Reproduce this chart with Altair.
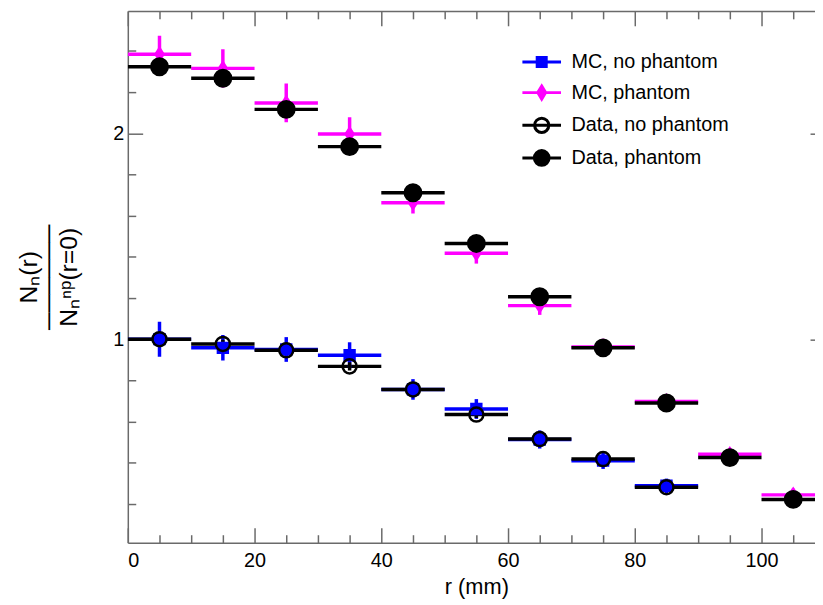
import altair as alt
import pandas as pd

# ---------------- data ----------------
series_names = ["MC, no phantom", "MC, phantom", "Data, no phantom", "Data, phantom"]

r_center = [5, 15, 25, 35, 45, 55, 65, 75, 85, 95, 105]
r_low = [0, 10, 20, 30, 40, 50, 60, 70, 80, 90, 100]
r_high = [10, 20, 30, 40, 50, 60, 70, 80, 90, 100, 110]

mc_nophantom = [1.000, 0.958, 0.950, 0.922, 0.756, 0.661, 0.513, 0.410, 0.288]
mc_nophantom_err = [0.085, 0.062, 0.060, 0.063, 0.050, 0.048, 0.044, 0.040, 0.035]
mc_phantom = [2.384, 2.315, 2.147, 1.996, 1.663, 1.417, 1.163, 0.962, 0.698, 0.441, 0.244]
mc_phantom_err = [0.090, 0.093, 0.094, 0.082, 0.053, 0.050, 0.045, 0.040, 0.035, 0.030, 0.030]
data_nophantom = [1.000, 0.977, 0.946, 0.868, 0.756, 0.634, 0.515, 0.418, 0.281]
data_nophantom_err = [0.020, 0.020, 0.020, 0.020, 0.018, 0.017, 0.015, 0.014, 0.012]
data_phantom = [2.323, 2.267, 2.116, 1.935, 1.711, 1.465, 1.206, 0.958, 0.690, 0.425, 0.222]
data_phantom_err = [0.030, 0.030, 0.029, 0.028, 0.026, 0.024, 0.022, 0.020, 0.018, 0.016, 0.014]

x_major_ticks = [0, 20, 40, 60, 80, 100]
x_minor_ticks = [5, 10, 15, 25, 30, 35, 45, 50, 55, 65, 70, 75, 85, 90, 95, 105]
y_major_ticks = [1, 2]
y_minor_ticks = [0.2, 0.4, 0.6, 0.8, 1.2, 1.4, 1.6, 1.8, 2.2, 2.4]

x_title = "r (mm)"
y_title = ["Nₙ(r)", "──────", "Nₙⁿᵖ(r=0)"]

# ---------------- styles ----------------
series_stroke = ["#0000ff", "#ff00ff", "#000000", "#000000"]
series_fill = ["#0000ff", "#ff00ff", "transparent", "#000000"]
point_shapes = [
    "M-0.5,-0.5L0.5,-0.5L0.5,0.5L-0.5,0.5Z",
    "M0,-0.62L0.4,0L0,0.62L-0.4,0Z",
    "M-0.71,0A0.71,0.71,0,1,0,0.71,0A0.71,0.71,0,1,0,-0.71,0Z",
    "M-0.83,0A0.83,0.83,0,1,0,0.83,0A0.83,0.83,0,1,0,-0.83,0Z",
]
legend_shapes = [
    "M-1.625,0L1.625,0M-0.38,-0.38L0.38,-0.38L0.38,0.38L-0.38,0.38Z",
    "M-1.625,0L1.625,0M0,-0.55L0.33,0L0,0.55L-0.33,0Z",
    "M-1.625,0L1.625,0M-0.6,0A0.6,0.6,0,1,0,0.6,0A0.6,0.6,0,1,0,-0.6,0Z",
    "M-1.625,0L1.625,0M-0.62,0A0.62,0.62,0,1,0,0.62,0A0.62,0.62,0,1,0,-0.62,0Z",
]
FRAME = "#6a6a6a"
FONT = "Liberation Sans"

# ---------------- table ----------------
rows = []
for k, (name, vals, errs) in enumerate(zip(
        series_names,
        [mc_nophantom, mc_phantom, data_nophantom, data_phantom],
        [mc_nophantom_err, mc_phantom_err, data_nophantom_err, data_phantom_err])):
    for i, (v, e) in enumerate(zip(vals, errs)):
        rows.append(dict(series=name, k=k, r=r_center[i], lo=r_low[i], hi=r_high[i],
                         val=v, ylo=v - e, yhi=v + e))
df = pd.DataFrame(rows)

x_scale = alt.Scale(domain=[0, 108.44], nice=False, zero=False)
y_scale = alt.Scale(domain=[0.012, 2.594], nice=False, zero=False)


def sc(rng):
    return alt.Scale(domain=series_names, range=rng)


def axis(orient, values=None, offset=0, tick_size=0, labels=False, domain=False, title=None, **extra):
    kw = dict(orient=orient, offset=offset, labels=labels, domain=domain, grid=False, title=title,
              tickColor=FRAME, tickWidth=1.5, domainColor=FRAME, domainWidth=1.5,
              labelFont=FONT, labelFontSize=20, labelColor="black",
              titleFont=FONT, titleColor="black", titleFontWeight="normal")
    if values is not None:
        kw["values"] = values
    if tick_size > 0:
        kw.update(ticks=True, tickSize=tick_size)
    else:
        kw.update(ticks=False)
    kw.update(extra)
    return alt.Axis(**kw)


leg = alt.Legend(title=None, orient="none", legendX=404.5, legendY=38, symbolSize=576,
                 symbolStrokeWidth=3, labelFont=FONT, labelFontSize=20, labelColor="black",
                 labelOffset=16.5, rowPadding=6, padding=0, labelLimit=400)

hbars = alt.Chart(df).mark_rule(strokeWidth=3.5, clip=True).encode(
    x=alt.X("lo:Q", scale=x_scale,
            axis=axis("bottom", x_major_ticks, -15, 15, labels=True, title=x_title,
                      labelPadding=8, titleX=352, titleY=59, titleBaseline="middle",
                      titleFontSize=22)),
    x2="hi:Q",
    y=alt.Y("val:Q", scale=y_scale,
            axis=axis("left", y_major_ticks, -15, 15, labels=True, title=y_title,
                      labelPadding=4, titleX=-115, titleAngle=270, titleBaseline="middle",
                      titleAlign="center", titleFontSize=25, titleLineHeight=20)),
    stroke=alt.Stroke("series:N", scale=sc(series_stroke), legend=None),
)

vbars = alt.Chart(df).mark_rule(strokeWidth=3.5, clip=True).encode(
    x=alt.X("r:Q", scale=x_scale, axis=axis("bottom", x_minor_ticks, -8, 8)),
    y=alt.Y("ylo:Q", scale=y_scale, axis=axis("left", y_minor_ticks, -8, 8)),
    y2="yhi:Q",
    stroke=alt.Stroke("series:N", scale=sc(series_stroke), legend=None),
)

points = alt.Chart(df).mark_point(filled=True, size=400, strokeWidth=2.5, opacity=1, clip=True).encode(
    x=alt.X("r:Q", scale=x_scale, axis=axis("top", x_major_ticks, -15, 15)),
    y=alt.Y("val:Q", scale=y_scale, axis=axis("right", y_major_ticks, -5, 5)),
    shape=alt.Shape("series:N", scale=sc(point_shapes), legend=None),
    fill=alt.Fill("series:N", scale=sc(series_fill), legend=None),
    stroke=alt.Stroke("series:N", scale=sc(series_stroke), legend=None),
    order=alt.Order("k:Q"),
)

legend_layer = alt.Chart(df).transform_filter("false").mark_point(
    filled=True, size=576, strokeWidth=3, opacity=1).encode(
    x=alt.X("r:Q", scale=x_scale, axis=axis("top", x_minor_ticks, -8, 8)),
    y=alt.Y("val:Q", scale=y_scale, axis=axis("left", domain=True)),
    shape=alt.Shape("series:N", scale=sc(legend_shapes), legend=leg),
    fill=alt.Fill("series:N", scale=sc(series_fill), legend=leg),
    stroke=alt.Stroke("series:N", scale=sc(series_stroke), legend=leg),
)

frame_bottom = alt.Chart(df).transform_filter("false").mark_rule().encode(
    x=alt.X("r:Q", scale=x_scale, axis=axis("bottom", domain=True)),
    y=alt.Y("val:Q", scale=y_scale, axis=None),
)
frame_top = alt.Chart(df).transform_filter("false").mark_rule().encode(
    x=alt.X("r:Q", scale=x_scale, axis=axis("top", domain=True)),
    y=alt.Y("val:Q", scale=y_scale, axis=None),
)

chart = alt.layer(
    frame_bottom, frame_top, hbars, vbars, points, legend_layer
).resolve_scale(
    shape="independent", fill="independent", stroke="independent"
).resolve_axis(
    x="independent", y="independent"
).properties(
    width=694, height=537,
    autosize=alt.AutoSizeParams(type="none"),
    padding={"left": 121, "top": 0, "right": 0, "bottom": 58},
    background="white",
).configure_view(
    stroke="transparent"
)

chart.save("out.html", embed_options={"renderer": "svg", "actions": False})
